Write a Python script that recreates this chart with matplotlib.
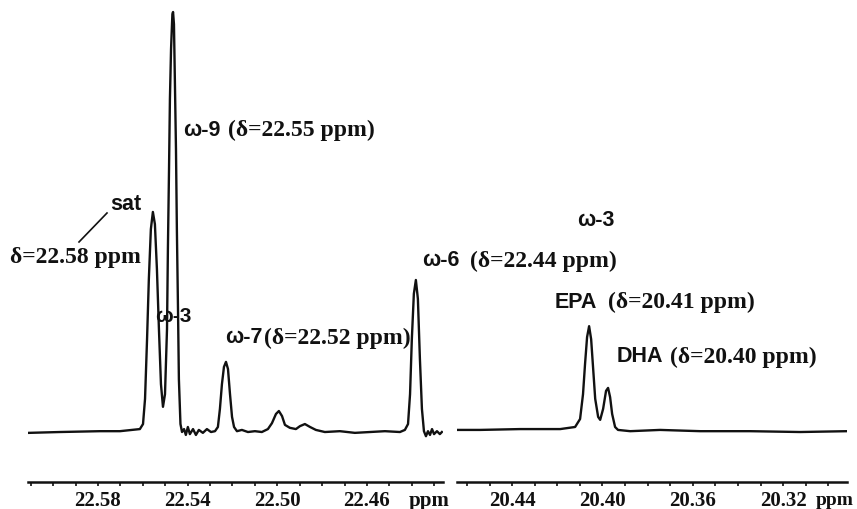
import matplotlib
matplotlib.use("Agg")
import matplotlib.pyplot as plt
from matplotlib.ticker import FixedLocator, MultipleLocator, FormatStrFormatter

# === Spectrum data (ppm, relative intensity) ===
left_ppm = [22.6108, 22.5970, 22.5791, 22.5702, 22.5613, 22.5599, 22.5590, 22.5581,
            22.5573, 22.5564, 22.5555, 22.5546, 22.5537, 22.5528, 22.5519, 22.5510,
            22.5501, 22.5492, 22.5488, 22.5483, 22.5479, 22.5474, 22.5468, 22.5465,
            22.5461, 22.5457, 22.5452, 22.5448, 22.5443, 22.5439, 22.5432, 22.5425,
            22.5416, 22.5408, 22.5399, 22.5390, 22.5376, 22.5363, 22.5350, 22.5332,
            22.5314, 22.5296, 22.5278, 22.5265, 22.5256, 22.5247, 22.5238, 22.5229,
            22.5220, 22.5211, 22.5202, 22.5193, 22.5180, 22.5158, 22.5131, 22.5100,
            22.5069, 22.5042, 22.5024, 22.5006, 22.4993, 22.4979, 22.4966, 22.4944,
            22.4917, 22.4899, 22.4877, 22.4854, 22.4828, 22.4788, 22.4721, 22.4654,
            22.4587, 22.4520, 22.4453, 22.4431, 22.4417, 22.4408, 22.4400, 22.4391,
            22.4382, 22.4373, 22.4364, 22.4355, 22.4346, 22.4337, 22.4328, 22.4319,
            22.4310, 22.4301, 22.4288, 22.4275, 22.4266]
left_int = [-0.2, 0.0, 0.2, 0.2, 0.7, 1.9, 7.9, 22.1,
            36.4, 48.3, 52.4, 49.5, 38.8, 24.5, 11.4, 6.0,
            9.0, 24.5, 43.6, 62.6, 79.3, 91.2, 99.5, 100.0,
            97.1, 84.0, 67.4, 48.3, 29.3, 12.6, 1.9, 0.0,
            0.7, -0.7, 1.2, -0.5, 0.7, -0.7, 0.5, -0.2,
            0.7, 0.0, 0.2, 1.2, 5.5, 11.4, 15.5, 16.7,
            15.0, 9.0, 3.6, 1.2, 0.2, 0.5, 0.0, 0.2,
            0.0, 0.7, 2.1, 4.3, 5.0, 3.8, 1.7, 1.0,
            0.7, 1.4, 1.9, 1.2, 0.5, 0.0, 0.2, -0.2,
            0.0, 0.2, 0.0, 0.5, 1.9, 9.0, 22.1, 32.9,
            36.2, 31.7, 17.4, 5.5, 0.2, -1.0, 0.2, -0.7,
            0.7, -0.5, 0.2, -0.5, 0.0]

right_ppm = [20.4639, 20.4542, 20.4365, 20.4187, 20.4121, 20.4099, 20.4086, 20.4077,
             20.4068, 20.4059, 20.4050, 20.4041, 20.4032, 20.4019, 20.4010, 20.3997,
             20.3984, 20.3975, 20.3966, 20.3957, 20.3944, 20.3931, 20.3877, 20.3745,
             20.3567, 20.3346, 20.3125, 20.2916]
right_int = [0.5, 0.5, 0.7, 0.7, 1.2, 3.1, 9.0, 16.2,
             22.6, 25.2, 22.1, 15.0, 7.9, 3.6, 2.9, 5.5,
             9.8, 10.5, 8.3, 4.3, 1.2, 0.5, 0.2, 0.5,
             0.2, 0.2, 0.0, 0.2]

left_ticks = [22.58, 22.54, 22.50, 22.46]
right_ticks = [20.44, 20.40, 20.36, 20.32]
left_range = (22.6112, 22.4261)
right_range = (20.4644, 20.2917)

SERIF = "Liberation Serif"
SANS = "Liberation Sans"
INK = "#111111"

fig = plt.figure(figsize=(8.57, 5.10), dpi=100)
ax1 = fig.add_axes([28 / 857, 27 / 510, 415 / 857, 483 / 510])
ax2 = fig.add_axes([457 / 857, 27 / 510, 390 / 857, 483 / 510])

for ax, ppm, inten, ticks, rng in [(ax1, left_ppm, left_int, left_ticks, left_range),
                                   (ax2, right_ppm, right_int, right_ticks, right_range)]:
    ax.plot(ppm, inten, color=INK, lw=1.7)
    ax.set_xlim(*rng)
    ax.set_ylim(-11.9, 103.1)
    for s in ["top", "left", "right"]:
        ax.spines[s].set_visible(False)
    ax.spines["bottom"].set_linewidth(1.8)
    ax.spines["bottom"].set_color(INK)
    ax.set_yticks([])
    ax.xaxis.set_major_locator(FixedLocator(ticks))
    ax.xaxis.set_minor_locator(MultipleLocator(0.01))
    ax.xaxis.set_major_formatter(FormatStrFormatter("%.2f"))
    ax.tick_params(axis="x", which="both", direction="out", length=3, width=1.2,
                   color=INK, pad=3)
    for lab in ax.get_xticklabels():
        lab.set_fontfamily(SERIF)
        lab.set_fontweight("bold")
        lab.set_fontsize(15)
        lab.set_color(INK)
    ax.patch.set_alpha(0)


def px_text(x, y, s, family, size=17, weight="bold"):
    fig.text(x / 857, 1 - y / 510, s, family=family, fontsize=size, fontweight=weight,
             color=INK, ha="left", va="center")


# unit labels at the end of each axis
px_text(409, 501, "ppm", SERIF, 15)
px_text(816, 501, "ppm", SERIF, 14)

# peak annotations
px_text(110, 204, "sat", SANS, 15.5)
fig.add_artist(plt.Line2D([79 / 857, 107 / 857], [1 - 243 / 510, 1 - 214 / 510],
                          color=INK, lw=1.2))
px_text(10, 258, "\u03b4=22.58 ppm", SERIF)
px_text(155, 317, "\u03c9-3", SANS, 15)
px_text(183, 130, "\u03c9-9", SANS, 15.5)
px_text(228, 130, "(\u03b4=22.55 ppm)", SERIF)
px_text(225, 338, "\u03c9-7", SANS, 15.5)
px_text(264, 338, "(\u03b4=22.52 ppm)", SERIF)
px_text(422, 261, "\u03c9-6", SANS, 15.5)
px_text(470, 261, "(\u03b4=22.44 ppm)", SERIF)
px_text(577, 220, "\u03c9-3", SANS, 15.5)
px_text(555, 302, "EPA", SANS, 15.5)
px_text(608, 302, "(\u03b4=20.41 ppm)", SERIF)
px_text(617, 357, "DHA", SANS, 15.5)
px_text(670, 357, "(\u03b4=20.40 ppm)", SERIF)

fig.savefig("out.png", dpi=100)
